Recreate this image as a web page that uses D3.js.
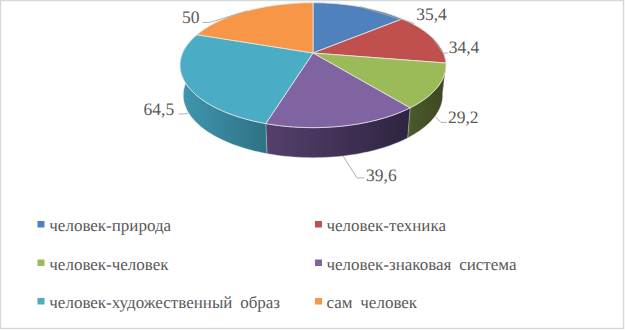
<!DOCTYPE html>
<html>
<head>
<meta charset="utf-8">
<script src="https://cdn.jsdelivr.net/npm/d3@7"></script>
<style>
html, body { margin: 0; padding: 0; background: #fff; }
svg { display: block; }
text { font-family: "Liberation Serif", "Times New Roman", serif; fill: #595959; text-rendering: geometricPrecision; }
</style>
</head>
<body>
<div id="chart"></div>
<script>
// data
const categories = ['человек-природа', 'человек-техника', 'человек-человек', 'человек-знаковая система', 'человек-художественный образ', 'сам человек'];
const values = [35.4, 34.4, 29.2, 39.6, 64.5, 50];
const valueLabels = ['35,4', '34,4', '29,2', '39,6', '64,5', '50'];

// colours
const topColors = ['#4f81bd', '#c0504d', '#9bbb59', '#8064a2', '#4bacc6', '#f79646'];
const sideFrom = ['#2f4d71', '#73302e', '#4a5a2a', '#55406c', '#3f97af', '#94592a'];
const sideTo = ['#2f4d71', '#5c2624', '#3c4720', '#2e2440', '#2f7286', '#94592a'];

const width = 625, height = 330;

// perspective of the pie plate
const cx = 313, cy = 53;
const radius = 130.4, yRadius = 60.1, persp = 0.195;
const depth = 30, bottomScale = 0.975;

// p = 0 top rim, p = 1 bottom rim
function project(angle, p) {
    const x = Math.sin(angle), d = Math.cos(angle);
    const w = 1 + persp * d;
    const s = 1 - (1 - bottomScale) * p;
    return [cx + radius * x / w * s, cy - yRadius * d / w + depth * p];
}

function arcPoints(a0, a1, p) {
    const n = Math.max(2, Math.ceil((a1 - a0) / 0.03));
    return d3.range(n + 1).map(i => project(a0 + (a1 - a0) * i / n, p));
}

const slices = d3.pie().sort(null)(values);

const svg = d3.select('#chart').append('svg').attr('width', width).attr('height', height);
const defs = svg.append('defs');
const line = d3.line();

// frame
svg.append('rect').attr('x', 0.5).attr('y', 0.5)
   .attr('width', 623).attr('height', 328)
   .attr('fill', '#fff').attr('stroke', '#d9d9d9').attr('stroke-width', 1.5);

// sides, only the part turned to the viewer
slices.forEach((s, i) => {
    const a0 = Math.max(s.startAngle, Math.PI * 0.47);
    const a1 = Math.min(s.endAngle, Math.PI * 1.53);
    if (a1 <= a0) return;
    const topRim = arcPoints(a0, a1, 0);
    const bottomRim = arcPoints(a0, a1, 1).reverse();
    const xs = topRim.map(d => d[0]);
    const grad = defs.append('linearGradient').attr('id', 'side' + i)
        .attr('gradientUnits', 'userSpaceOnUse')
        .attr('x1', d3.min(xs)).attr('x2', d3.max(xs)).attr('y1', 0).attr('y2', 0);
    grad.append('stop').attr('offset', 0).attr('stop-color', sideFrom[i]);
    grad.append('stop').attr('offset', 1).attr('stop-color', sideTo[i]);
    svg.append('path')
       .attr('d', line(topRim.concat(bottomRim)) + 'Z')
       .attr('fill', `url(#side${i})`)
       .attr('stroke', '#d5dbe0').attr('stroke-width', 0.5).attr('stroke-opacity', 0.7);
});

// top of the pie
svg.selectAll('.slice').data(slices).join('path')
   .attr('class', 'slice')
   .attr('d', d => line([[cx, cy]].concat(arcPoints(d.startAngle, d.endAngle, 0))) + 'Z')
   .attr('fill', (d, i) => topColors[i])
   .attr('stroke', '#e8e8e8').attr('stroke-width', 0.8).attr('stroke-linejoin', 'round');

// leader lines and labels, offsets from the middle of each slice's rim
const labelLayout = [
    { rim: 0, elbow: [52, 16], end: [54, 17], tx: 56, ty: 13, anchor: 'start' },
    { rim: 0, elbow: [10, 15], end: [15, 15], tx: 16, ty: 15, anchor: 'start' },
    { rim: 1, elbow: [6, 6], end: [12, 6], tx: 13, ty: 7, anchor: 'start' },
    { rim: 1, elbow: [14, 22], end: [21, 22], tx: 23, ty: 25, anchor: 'start' },
    { rim: 1, elbow: [-4, 1], end: [-10, 1], tx: -14.5, ty: 2, anchor: 'end' },
    { rim: 0, elbow: [-38, 11.7], end: [-45, 11.7], tx: -48, ty: 12, anchor: 'end' }
];

slices.forEach((s, i) => {
    const l = labelLayout[i];
    const mid = (s.startAngle + s.endAngle) / 2;
    const start = project(mid, l.rim);
    const pts = [start, [start[0] + l.elbow[0], start[1] + l.elbow[1]], [start[0] + l.end[0], start[1] + l.end[1]]];
    svg.append('path').attr('d', line(pts))
       .attr('fill', 'none').attr('stroke', '#a6a6a6').attr('stroke-width', 0.9);
    svg.append('text')
       .attr('x', start[0] + l.tx).attr('y', start[1] + l.ty)
       .attr('text-anchor', l.anchor)
       .attr('font-size', 17.5)
       .text(valueLabels[i]);
});

// legend
const legendCol = d3.scalePoint().domain([0, 1]).range([37.5, 315]);
const legendRow = d3.scalePoint().domain([0, 1, 2]).range([231, 308]);

const legend = svg.selectAll('.legend').data(categories).join('g')
   .attr('class', 'legend')
   .attr('transform', (d, i) => `translate(${legendCol(i % 2)},${legendRow(Math.floor(i / 2))})`);

legend.append('rect')
   .attr('x', 0).attr('y', -10).attr('width', 7).attr('height', 6.5)
   .attr('fill', (d, i) => topColors[i]);

legend.append('text')
   .attr('x', (d, i) => i % 2 ? 11.5 : 11.8)
   .attr('font-size', 17)
   .attr('word-spacing', 3.5)
   .text(d => d);
</script>
</body>
</html>
